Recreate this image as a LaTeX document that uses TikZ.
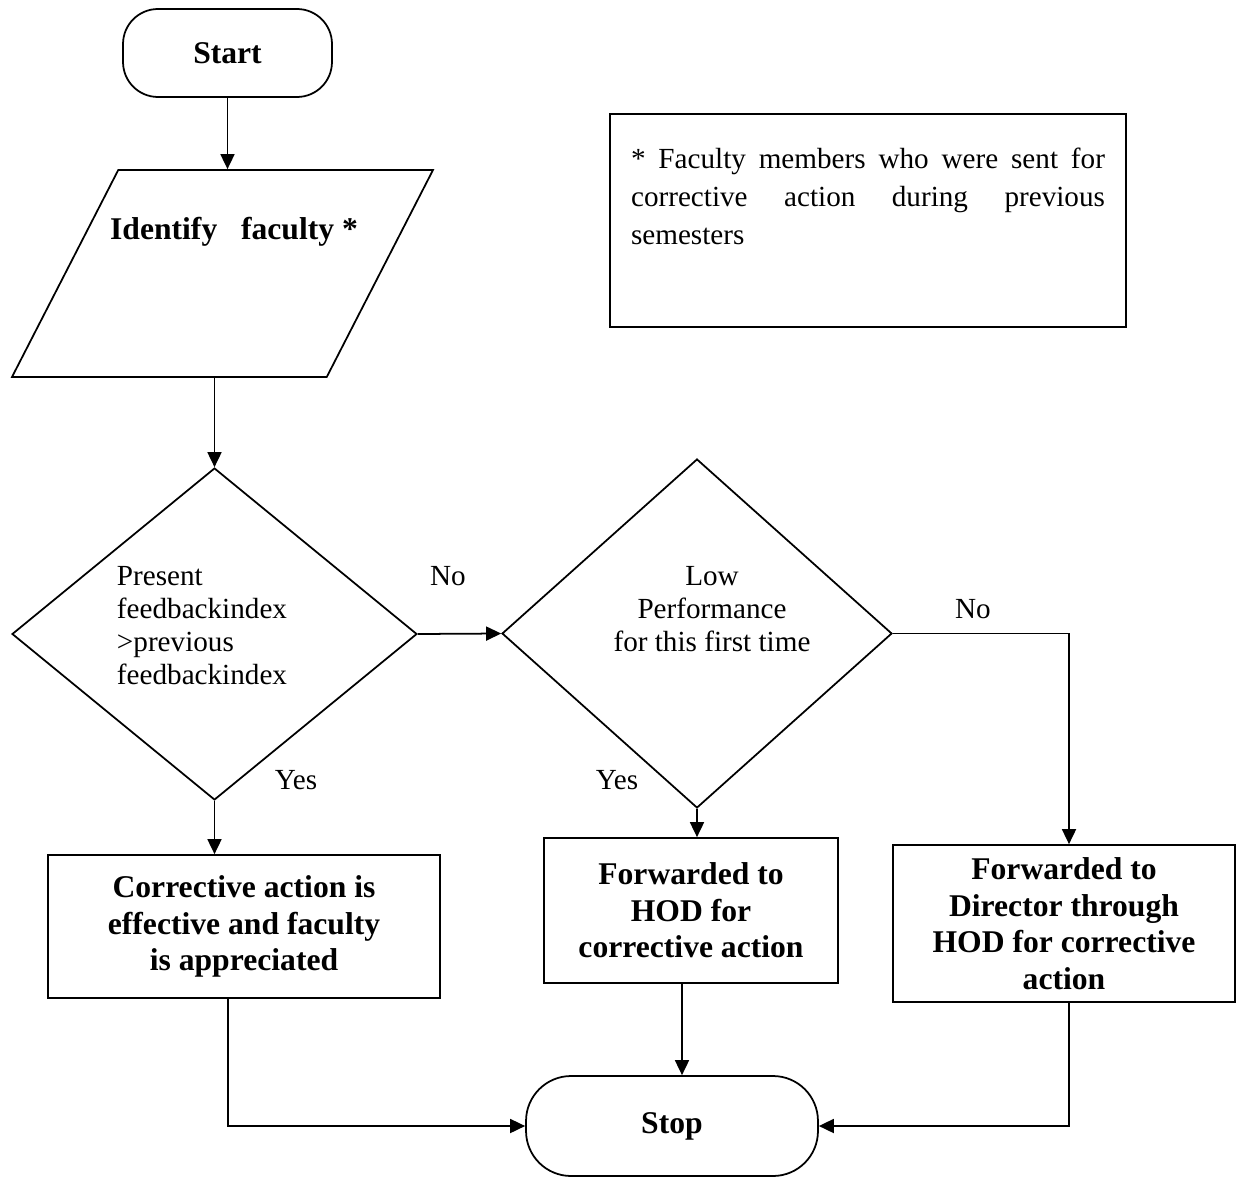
\documentclass[tikz,border=0pt]{standalone}
\usepackage{fontspec}
\setmainfont{Liberation Serif}
\usetikzlibrary{shapes.geometric, arrows.meta}
\hyphenpenalty=10000

\begin{document}
\begin{tikzpicture}[x=0.02cm, y=-0.02cm, line width=1pt,
    >={Triangle[length=0.3cm, width=0.28cm]},
    regtxt/.style={font=\fontsize{16.6}{18.8}\selectfont},
    boldtxt/.style={font=\fontsize{18}{20.8}\selectfont\bfseries},
    terminal/.style={draw, rectangle, boldtxt},
    para/.style={draw, trapezium, trapezium left angle=63, trapezium right angle=117, trapezium stretches=true},
    decision/.style={draw, diamond},
    process/.style={draw, rectangle, boldtxt, align=center, inner sep=0pt}]
    \useasboundingbox (0,0) rectangle (1240,1179);

    \node[terminal, rounded corners=0.7cm, minimum width=4.18cm, minimum height=1.76cm] at (227.5, 53) (start) {Start};
    \node[para, minimum width=8.42cm, minimum height=4.14cm,
        label={[boldtxt, xshift=0.23cm, yshift=0.83cm]center:{Identify\ \ \ faculty *}}] at (222.5, 273.5) (ident) {};
    \node[draw, minimum width=10.32cm, minimum height=4.26cm,
        label={[font=\fontsize{16.6}{21.6}\selectfont, text width=9.48cm, align=justify, yshift=0.49cm]center:{* Faculty members who were sent for\linebreak corrective action during previous\linebreak semesters}}] at (868, 220.5) (note) {};

    \node[decision, minimum width=8.1cm, minimum height=6.64cm,
        label={[regtxt, align=left, xshift=-0.25cm, yshift=0.17cm]center:{Present\\feedbackindex\\>previous\\feedbackindex}}] at (214.5, 634) (pres) {};
    \node[decision, minimum width=7.8cm, minimum height=6.98cm,
        label={[regtxt, align=center, xshift=0.3cm, yshift=0.49cm]center:{Low\\Performance\\for this first time}}] at (697, 633.5) (low) {};

    \node[process, minimum width=7.84cm, minimum height=2.86cm] at (244, 926.5) (corr) {Corrective action is\\effective and faculty\\is appreciated};
    \node[process, minimum width=5.88cm, minimum height=2.9cm] at (691, 910.5) (hod) {Forwarded to\\HOD for\\corrective action};
    \node[process, minimum width=6.84cm, minimum height=3.14cm] at (1064, 923.5) (dir) {Forwarded to\\Director through\\HOD for corrective\\action};

    \node[terminal, rounded corners=0.9cm, minimum width=5.84cm, minimum height=2cm] at (672, 1126) (stop) {Stop};

    \node[regtxt] at (448, 576) (no1) {No};
    \node[regtxt] at (296, 780) (yes1) {Yes};
    \node[regtxt] at (617, 780) (yes2) {Yes};
    \node[regtxt] at (973, 609) (no2) {No};

    \coordinate (jl) at (228, 1126);
    \coordinate (jm) at (682, 1076);
    \coordinate (jr) at (1069, 1122);

    \draw[->] (start) -- (start |- ident.north);
    \draw[->] (pres |- ident.south) -- (pres.north);
    \draw[->] (pres.east) -- (low.west);
    \draw[->] (pres.south) -- (pres.south |- corr.north);
    \draw[->] (low.south) -- (low.south |- hod.north);
    \draw[->] (low.east) -| (jr |- dir.north);
    \draw[->] (jl |- corr.south) |- (stop.west);
    \draw[->] (jm |- hod.south) -- (jm |- stop.north);
    \draw[->] (jr |- dir.south) |- (stop.east);
\end{tikzpicture}
\end{document}
